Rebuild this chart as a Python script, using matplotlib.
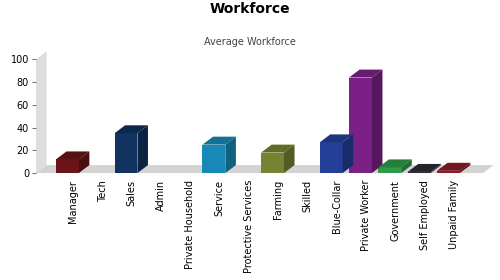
import matplotlib
matplotlib.use('Agg')
import matplotlib.pyplot as plt
import numpy as np
from matplotlib.patches import Polygon
from matplotlib.colors import to_rgb

categories = ['Manager', 'Tech', 'Sales', 'Admin', 'Private Household', 'Service',
              'Protective Services', 'Farming', 'Skilled', 'Blue-Collar',
              'Private Worker', 'Government', 'Self Employed', 'Unpaid Family']
values = [12, 0, 35, 0, 0, 25, 0, 18, 0, 27, 84, 5, 1, 2]
colors = ['#6a1419', '#333333', '#10335f', '#333333', '#333333', '#1889b6',
          '#333333', '#778330', '#333333', '#243f98', '#7b2186', '#2f9a48',
          '#2b2b33', '#8c1b26']

# 3D depth offsets (data units)
dx, dy = 0.36, 7.0

fig = plt.figure(figsize=(5, 2.8), dpi=100)
ax = fig.add_axes([0.072, 0.382, 0.894, 0.406])
xmin, xmax = -1.27, 13.98
ax.set_xlim(xmin, xmax)
ax.set_ylim(0, 100)

# wall and floor
ax.add_patch(Polygon([(xmin, 0), (xmin, 100), (xmin + dx, 100 + dy), (xmin + dx, dy)],
                     closed=True, facecolor='#dddddd', edgecolor='none', clip_on=False, zorder=1))
ax.add_patch(Polygon([(xmin, 0), (xmax, 0), (xmax + dx, dy), (xmin + dx, dy)],
                     closed=True, facecolor='#d3d3d3', edgecolor='none', clip_on=False, zorder=1))

pos = np.arange(len(categories))
bars = ax.bar(pos - 0.2, values, width=0.78, color=colors, zorder=3, clip_on=False)


def shade(c, f):
    r, g, b = to_rgb(c)
    return (r * f, g * f, b * f)


for b, v, c in zip(bars, values, colors):
    if v == 0:
        b.set_visible(False)
        continue
    x0, w = b.get_x(), b.get_width()
    x1 = x0 + w
    top = Polygon([(x0, v), (x1, v), (x1 + dx, v + dy), (x0 + dx, v + dy)],
                  closed=True, facecolor=shade(c, 0.82), edgecolor='none', clip_on=False, zorder=3)
    side = Polygon([(x1, 0), (x1, v), (x1 + dx, v + dy), (x1 + dx, dy)],
                   closed=True, facecolor=shade(c, 0.7), edgecolor='none', clip_on=False, zorder=3)
    ax.add_patch(top)
    ax.add_patch(side)

for s in ax.spines.values():
    s.set_visible(False)
ax.set_yticks([0, 20, 40, 60, 80, 100])
ax.tick_params(axis='y', length=3, width=0.6, color='#555555', labelsize=7, pad=2)
ax.set_xticks(pos)
ax.set_xticklabels(categories, rotation=90, fontsize=7, va='top', ha='center')
ax.tick_params(axis='x', length=0, pad=5)

fig.text(0.5, 1 - 9 / 280, 'Workforce', ha='center', va='center', fontsize=10, fontweight='bold')
fig.text(0.5, 1 - 42 / 280, 'Average Workforce', ha='center', va='center', fontsize=7, color='#444444')

fig.savefig('out.png', dpi=100)
